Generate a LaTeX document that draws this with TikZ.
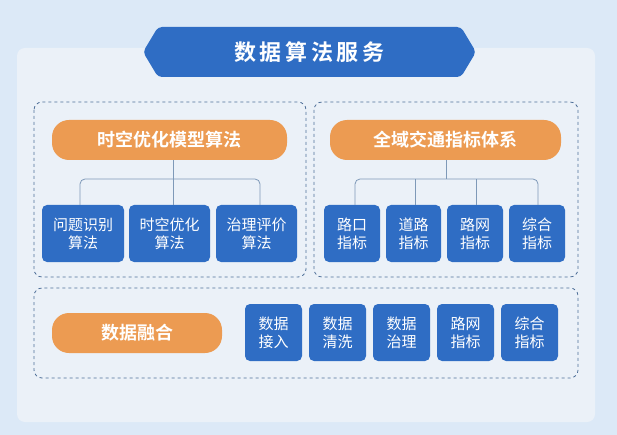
\documentclass[tikz,border=0pt]{standalone}
\usepackage{fontspec}
\newfontfamily\cjk{Noto Sans CJK SC}
\newfontfamily\cjkb{Noto Sans CJK SC Bold}
\definecolor{bg}{HTML}{DCE9F7}
\definecolor{panel}{HTML}{EBF1F8}
\definecolor{blu}{HTML}{2F6DC4}
\definecolor{ora}{HTML}{EC9B52}
\definecolor{dash}{HTML}{4E6F98}
\definecolor{lin}{HTML}{7E99B8}
\begin{document}
\begin{tikzpicture}[x=1pt,y=-1pt,
  bb/.style={fill=blu,rounded corners=5pt,text=white,font=\cjk\fontsize{15}{18}\selectfont,align=center,inner sep=0pt,minimum height=57pt},
  pill/.style={fill=ora,rounded corners=17pt,text=white,font=\cjkb\fontsize{18}{20}\selectfont,inner sep=0pt,minimum height=40pt},
  dbox/.style={draw=dash,dashed,line width=0.8pt,rounded corners=8pt},
  ln/.style={draw=lin,line width=0.8pt,rounded corners=5pt}]
\useasboundingbox (0,0) rectangle (617,435);
\fill[bg] (0,0) rectangle (617,435);
\fill[panel,rounded corners=8pt] (17,48) rectangle (595,422);
\fill[blu,rounded corners=4pt] (158,27) -- (461,27) -- (476,52) -- (461,77) -- (158,77) -- (143,52) -- cycle;
\node[text=white,font=\cjkb\fontsize{22}{24}\selectfont] (title) at (309.5,52) {数\,据\,算\,法\,服\,务};
\draw[dbox] (34,102) rectangle (306,277);
\draw[dbox] (314,102) rectangle (578,277);
\draw[dbox] (34,288) rectangle (578,378);
% left
\node[pill,minimum width=235pt] (p1) at (169.5,140) {时空优化模型算法};
\node[bb,minimum width=82pt] (a1) at (83,233.5) {问题识别\\算法};
\node[bb,minimum width=81pt] (a2) at (169.5,233.5) {时空优化\\算法};
\node[bb,minimum width=81pt] (a3) at (256.5,233.5) {治理评价\\算法};
\coordinate (j1) at (173,179);
\draw[ln] (p1.south -| j1) -- (j1);
\draw[ln] (a1.north -| 80,0) -- (80,179) -- (260,179) -- (a3.north -| 260,0);
\draw[ln] (j1) -- (a2.north -| j1);
% right
\node[pill,minimum width=231pt] (p2) at (445.5,140) {全域交通指标体系};
\node[bb,minimum width=56pt] (b1) at (352,233.5) {路口\\指标};
\node[bb,minimum width=55pt] (b2) at (413.5,233.5) {道路\\指标};
\node[bb,minimum width=56pt] (b3) at (475,233.5) {路网\\指标};
\node[bb,minimum width=56pt] (b4) at (537,233.5) {综合\\指标};
\coordinate (j2) at (446,179);
\draw[ln] (p2.south -| j2) -- (j2);
\draw[ln] (b1.north -| 355,0) -- (355,179) -- (538,179) -- (b4.north -| 538,0);
\draw[ln] (415,179) -- (b2.north -| 415,0);
\draw[ln] (476,179) -- (b3.north -| 476,0);
% bottom
\node[pill,minimum width=170pt] (p3) at (137,333) {数据融合};
\node[bb,minimum width=57pt] (c1) at (273.5,332.5) {数据\\接入};
\node[bb,minimum width=57pt] (c2) at (337.5,332.5) {数据\\清洗};
\node[bb,minimum width=57pt] (c3) at (401.5,332.5) {数据\\治理};
\node[bb,minimum width=57pt] (c4) at (465.5,332.5) {路网\\指标};
\node[bb,minimum width=57pt] (c5) at (529.5,332.5) {综合\\指标};
\end{tikzpicture}
\end{document}
